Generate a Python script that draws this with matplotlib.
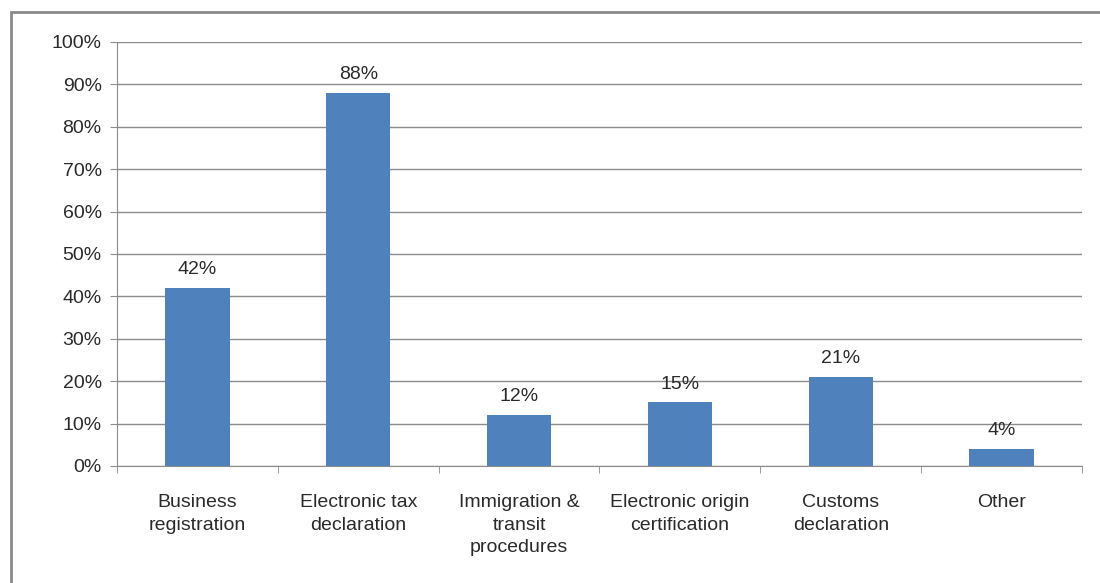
import matplotlib.pyplot as plt
import numpy as np
from matplotlib.patches import Rectangle
from matplotlib.ticker import MultipleLocator, FixedLocator

plt.rcParams['font.family'] = ['Liberation Sans', 'DejaVu Sans']

# 各类电子化服务的使用比例 (%)
categories = ['Business\nregistration', 'Electronic tax\ndeclaration',
              'Immigration &\ntransit\nprocedures', 'Electronic origin\ncertification',
              'Customs\ndeclaration', 'Other']
values = [42, 88, 12, 15, 21, 4]

fig = plt.figure(figsize=(11, 5.83), dpi=100)
ax = fig.add_axes([117 / 1100, 1 - 466 / 583, 965 / 1100, 424 / 583])

x = np.arange(len(categories))
ax.bar(x, values, width=0.4, color='#4F81BD', zorder=3)

for xi, v in zip(x, values):
    ax.annotate(f'{v}%', (xi, v), xytext=(0, 7), textcoords='offset points',
                ha='center', va='bottom', fontsize=14, color='#2a2a2a')

ax.set_xlim(-0.5, len(categories) - 0.5)
ax.set_ylim(0, 100)
ax.yaxis.set_major_locator(MultipleLocator(10))
ax.set_yticklabels([f'{int(t)}%' for t in ax.get_yticks()])
ax.grid(axis='y', color='#8c8c8c', lw=1, zorder=0)

ax.set_xticks(x)
ax.set_xticklabels(categories, fontsize=14, color='#2a2a2a', linespacing=1.45)
ax.xaxis.set_minor_locator(FixedLocator(np.arange(-0.5, len(categories), 1)))
ax.tick_params(axis='x', which='major', length=0, pad=20)
ax.tick_params(axis='x', which='minor', length=5, color='#8c8c8c')
ax.tick_params(axis='y', length=5, color='#8c8c8c', labelsize=14,
               labelcolor='#2a2a2a', pad=6)

for side in ['top', 'right']:
    ax.spines[side].set_visible(False)
for side in ['left', 'bottom']:
    ax.spines[side].set_color('#8c8c8c')

# 外框
fig.add_artist(Rectangle((11 / 1100, -0.1), 1.2, 1.1 - 12 / 583,
                         transform=fig.transFigure, fill=False,
                         edgecolor='#8a8a8a', lw=2))

fig.savefig('out.png', dpi=100)
